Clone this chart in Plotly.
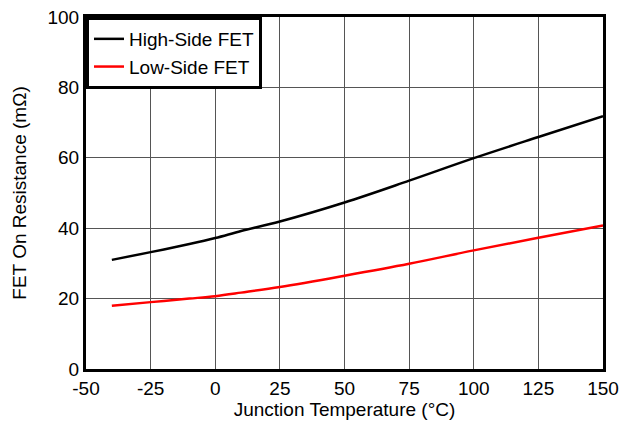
import plotly.graph_objects as go

temps = [-40, -25, -10, 0, 10, 25, 50, 75, 100, 125, 150]
high_side = [31.0, 33.2, 35.5, 37.2, 39.2, 41.9, 47.3, 53.5, 59.9, 65.9, 71.8]
low_side = [18.0, 19.0, 20.0, 20.7, 21.7, 23.3, 26.5, 29.9, 33.7, 37.3, 40.8]
x_ticks = [-50, -25, 0, 25, 50, 75, 100, 125, 150]
x_tick_labels = ["-50", "-25", "0", "25", "50", "75", "100", "125", "150"]
y_ticks = [0, 20, 40, 60, 80, 100]
y_tick_labels = ["0", "20", "40", "60", "80", "100"]

font = "Liberation Sans, Arial, sans-serif"
fs = 19

fig = go.Figure()
fig.add_trace(go.Scatter(x=temps, y=high_side, mode="lines", name="High-Side FET",
                         line=dict(color="black", width=2.5, shape="spline")))
fig.add_trace(go.Scatter(x=temps, y=low_side, mode="lines", name="Low-Side FET",
                         line=dict(color="#ff0000", width=2.5, shape="spline")))

fig.update_layout(
    width=631, height=424,
    margin=dict(l=86, r=28, t=17, b=55, autoexpand=False),
    paper_bgcolor="white", plot_bgcolor="white",
    font=dict(family=font, size=fs, color="black"),
    showlegend=True,
    legend=dict(x=0, y=1, xanchor="left", yanchor="top",
                bgcolor="white", bordercolor="black", borderwidth=3,
                font=dict(family=font, size=fs, color="black"),
                tracegroupgap=0, itemwidth=30),
    xaxis=dict(range=[-50, 150], tickvals=x_ticks, ticktext=x_tick_labels, ticks="",
               automargin=False,
               showgrid=True, gridcolor="#555555", gridwidth=1,
               showline=True, linecolor="black", linewidth=3, mirror=True,
               zeroline=False,
               title=dict(text="Junction Temperature (°C)", font=dict(family=font, size=fs), standoff=0),
               tickfont=dict(family=font, size=fs)),
    yaxis=dict(range=[0, 100], tickvals=y_ticks, ticktext=y_tick_labels, ticks="",
               automargin=False,
               showgrid=True, gridcolor="#555555", gridwidth=1,
               showline=True, linecolor="black", linewidth=3, mirror=True,
               zeroline=False,
               title=dict(text="FET On Resistance (mΩ)", font=dict(family=font, size=fs), standoff=16),
               tickfont=dict(family=font, size=fs)),
)

fig.write_html("out.html")
